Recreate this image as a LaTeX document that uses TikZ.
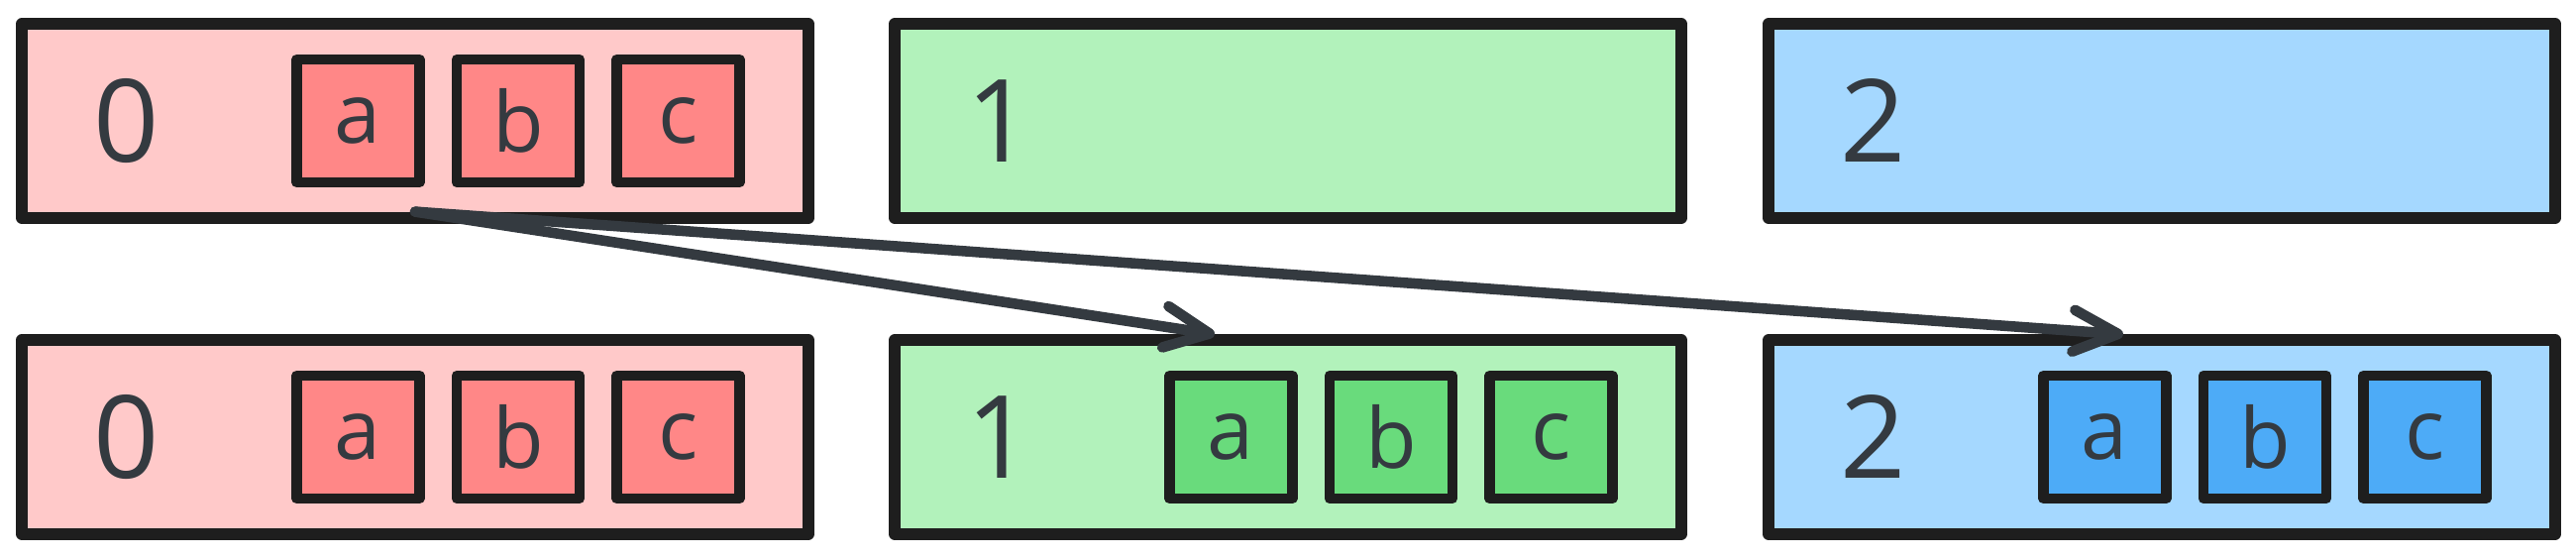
\documentclass[tikz,border=0pt]{standalone}
\usepackage{fontspec}
\setmainfont{Open Sans}
\usepackage{tikz}
\usetikzlibrary{arrows.meta, positioning}
\definecolor{inkDark}{HTML}{1E1E1E}
\definecolor{inkSlate}{HTML}{343A40}
\definecolor{redLight}{HTML}{FFC9C9}
\definecolor{redMid}{HTML}{FF8787}
\definecolor{greenLight}{HTML}{B2F2BB}
\definecolor{greenMid}{HTML}{69DB7C}
\definecolor{blueLight}{HTML}{A5D8FF}
\definecolor{blueMid}{HTML}{4DABF7}
\tikzset{
    % Slots
    slotBox/.style={rectangle, draw=inkDark, line width=3.2pt, line join=round,
        inner sep=0pt, minimum width=7.94cm, minimum height=1.96cm},
    slotLabel/.style={font=\fontsize{33}{33}\selectfont, text=inkSlate},
    % Items inside a slot
    itemBox/.style={rectangle, draw=inkDark, line width=3pt, line join=round,
        inner sep=0pt, minimum size=1.24cm, font=\fontsize{24}{24}\selectfont, text=inkSlate},
    % Copy arrows
    copyArrow/.style={-{Straight Barb[length=4.5mm, width=4.2mm, round]},
        line width=3pt, draw=inkSlate, line cap=round}
}
\begin{document}
\begin{tikzpicture}
    \useasboundingbox (0,0) rectangle (26,5.64);

    % Rows of slots
    \foreach \r/\y in {top/4.42, bot/1.23} {
        \foreach \i/\x/\fillA in {0/4.19/redLight, 1/13.00/greenLight, 2/21.82/blueLight} {
            \node[slotBox, fill=\fillA] (\r\i) at (\x,\y) {};
            \node[slotLabel] (\r\i-num) at ([xshift=1.11cm]\r\i.west) {\i};
        }
    }

    % Items a, b, c
    \foreach \s/\fillB in {top0/redMid, bot0/redMid, bot1/greenMid, bot2/blueMid} {
        \node[itemBox, fill=\fillB] (\s-a) at ([xshift=3.45cm]\s.west) {a};
        \node[itemBox, fill=\fillB, right=0.27cm of \s-a] (\s-b) {b};
        \node[itemBox, fill=\fillB, right=0.27cm of \s-b] (\s-c) {c};
    }

    % Copies
    \draw[copyArrow] ([yshift=1.2mm]top0.south) -- ([xshift=-7.4mm]bot1.north);
    \draw[copyArrow] ([yshift=1.2mm]top0.south) -- ([xshift=-3.9mm]bot2.north);
\end{tikzpicture}
\end{document}
